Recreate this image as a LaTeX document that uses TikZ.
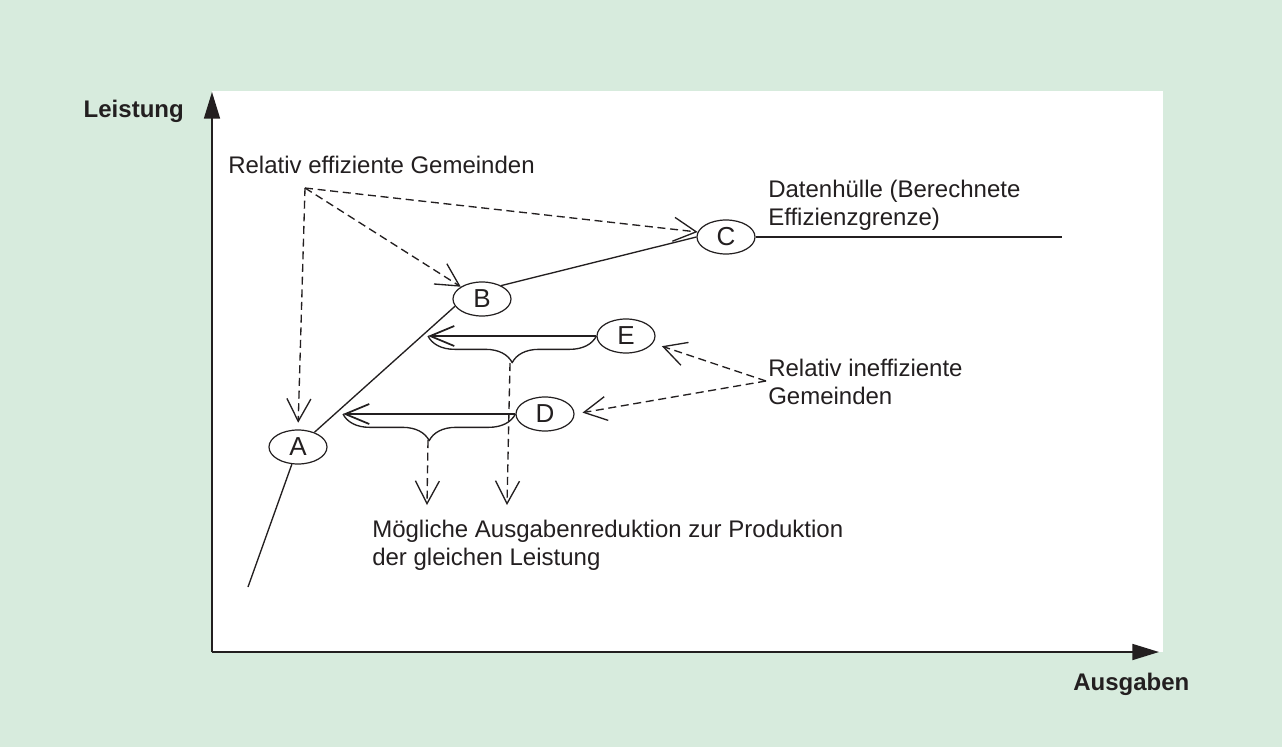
\documentclass[tikz,border=0pt]{standalone}
\usepackage{fontspec}
\setmainfont{Liberation Sans}
\usetikzlibrary{arrows.meta,shapes.geometric,decorations.pathreplacing}
\definecolor{bg}{RGB}{215,235,221}
\definecolor{ink}{RGB}{35,31,32}
\begin{document}
\begin{tikzpicture}[x=0.75pt,y=-0.75pt, line join=round,
  every node/.style={text=ink, font=\fontsize{18}{21}\selectfont, inner sep=0pt},
  pt/.style={ellipse, draw=ink, line width=0.9pt, minimum width=43.5pt, minimum height=25.5pt, inner sep=0pt, font=\fontsize{19.5}{21}\selectfont},
  frontier/.style={draw=ink, line width=1pt},
  dasharrow/.style={draw=ink, line width=1pt, dash pattern=on 6pt off 3.5pt, -{Straight Barb[length=17pt,width=18pt,line width=1pt]}},
  shiftarrow/.style={draw=ink, line width=1.5pt, -{Straight Barb[length=18pt,width=15pt,line width=1.3pt]}},
  bracestyle/.style={draw=ink, line width=1pt, decorate, decoration={brace, mirror, amplitude=20pt}},
  axis/.style={draw=ink, line width=1.3pt, -{Triangle[length=20pt,width=12pt]}},
  axlabel/.style={font=\fontsize{18}{21}\selectfont\bfseries}
]
\useasboundingbox (0,0) rectangle (1282,747);
\fill[bg] (0,0) rectangle (1282,747);
\fill[white] (212,91) rectangle (1163,652);

% axes
\coordinate (O) at (212,652);
\coordinate (ytop) at (212,92);
\coordinate (xend) at (1159,652);
\draw[axis] (O) -- (ytop);
\draw[axis] (O) -- (xend);
\node[axlabel, anchor=base east] (yl) at (184,117) {Leistung};
\node[axlabel, anchor=base west] (xl) at (1073,690) {Ausgaben};

% points
\node[pt] (A) at (298,447) {A};
\node[pt] (B) at (482,299) {B};
\node[pt] (C) at (726,237) {C};
\node[pt] (E) at (626,336) {E};
\node[pt] (D) at (545,414) {D};

% frontier
\coordinate (f0) at (248,587);
\coordinate (f1) at (1062,237);
\draw[frontier] (f0) -- (A);
\draw[frontier] (A) -- (B.195);
\draw[frontier] (B.35) -- (C.west);
\draw[frontier] (C.east) -- (f1);

% shift arrows and braces
\coordinate (eTip) at (428,336);
\coordinate (dTip) at (343,414);
\draw[shiftarrow] (E.west) -- (eTip);
\draw[shiftarrow] (D.west) -- (dTip);
\draw[bracestyle] (eTip) -- (E.west);
\draw[bracestyle] (dTip) -- (D.west);

\coordinate (eCusp) at (510,363);
\coordinate (eDown) at (507,505);
\coordinate (dCusp) at (428,440);
\coordinate (dDown) at (427,505);
\draw[dasharrow] (eCusp) -- (eDown);
\draw[dasharrow] (dCusp) -- (dDown);

% texts
\node[anchor=base west] (effT) at (228,173) {Relativ effiziente Gemeinden};
\coordinate (eff) at (305,188);
\draw[dasharrow, shorten >=5pt] (eff) -- (A.north);
\draw[dasharrow] (eff) -- (B.150);
\draw[dasharrow] (eff) -- (C.170);

\node[anchor=base west, align=left] (ineffT) at (768,404) {Relativ ineffiziente\\Gemeinden};
\coordinate (ineff) at (766,381);
\draw[dasharrow, shorten >=7pt] (ineff) -- (E.-15);
\draw[dasharrow, shorten >=6pt] (ineff) -- (D.east);

\node[anchor=base west, align=left] (dh) at (768,225) {Datenhülle (Berechnete\\Effizienzgrenze)};
\node[anchor=base west, align=left] (mr) at (372,565) {Mögliche Ausgabenreduktion zur Produktion\\der gleichen Leistung};
\end{tikzpicture}
\end{document}
